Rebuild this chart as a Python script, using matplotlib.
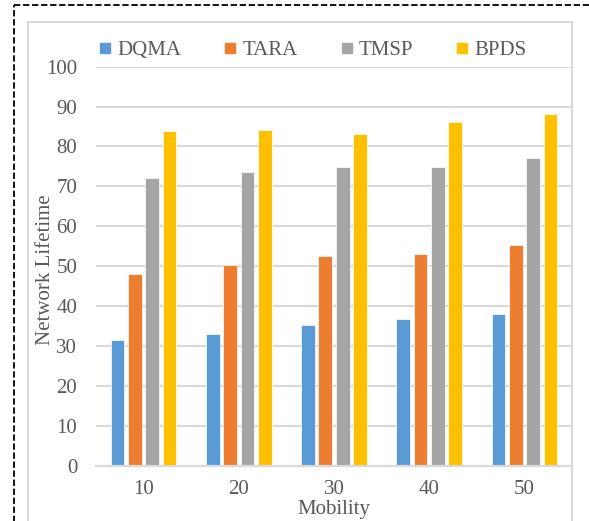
import matplotlib.pyplot as plt
from matplotlib.lines import Line2D
from matplotlib.patches import Rectangle
import numpy as np

# data
mobility = ['10', '20', '30', '40', '50']
dqma = [31.5, 33.0, 35.3, 36.8, 38.1]
tara = [48.0, 50.3, 52.6, 53.1, 55.3]
tmsp = [72.2, 73.7, 74.8, 74.9, 77.2]
bpds = [84.0, 84.1, 83.2, 86.2, 88.2]
series_names = ['DQMA', 'TARA', 'TMSP', 'BPDS']
colors = ['#5B9BD5', '#ED7D31', '#A5A5A5', '#FFC000']

txt_col = '#595959'
grid_col = '#D9D9D9'
plt.rcParams['font.family'] = ['Liberation Serif', 'DejaVu Serif']
fs = 15

W, H = 589, 521
fig = plt.figure(figsize=(W / 100, H / 100), dpi=100)
ax = fig.add_axes([96 / W, 1 - 465.7 / H, (572 - 96) / W, (465.7 - 66.7) / H])

x = np.arange(len(mobility))
pitch, width = 0.182, 0.144
for i, (vals, name, c) in enumerate(zip([dqma, tara, tmsp, bpds], series_names, colors)):
    ax.bar(x + (i - 1.5) * pitch, vals, width, color=c, edgecolor='white',
           linewidth=0.5, label=name, zorder=3)

ax.set_xlim(-0.5, 4.5)
ax.set_ylim(0, 100)
ax.set_yticks(range(0, 101, 10))
ax.set_xticks(x)
ax.set_xticklabels(mobility)
ax.tick_params(axis='both', length=0, colors=txt_col, labelsize=fs)
ax.tick_params(axis='y', pad=13.5)
ax.tick_params(axis='x', pad=10)
ax.yaxis.grid(True, color=grid_col, linewidth=1.5, zorder=0)
ax.set_axisbelow(True)
for s in ['left', 'right', 'top']:
    ax.spines[s].set_visible(False)
ax.spines['bottom'].set_color(grid_col)
ax.spines['bottom'].set_linewidth(1.6)
ax.spines['bottom'].set_zorder(4)

fig.text(334 / W, 1 - 514 / H, 'Mobility', ha='center', va='baseline',
         color=txt_col, fontsize=fs)
fig.text(46 / W, 1 - 270 / H, 'Network Lifetime', ha='center', va='center',
         rotation=90, color=txt_col, fontsize=fs)

handles = [Line2D([], [], linestyle='none', marker='s', markersize=7.3,
                  markerfacecolor=c, markeredgecolor=c) for c in colors]
leg = fig.legend(handles, series_names, ncol=4, loc='center left',
                 bbox_to_anchor=(99.5 / W, 1 - 50.7 / H), frameon=False,
                 handlelength=0.55, handletextpad=0.3, columnspacing=2.08,
                 borderpad=0, borderaxespad=0, fontsize=fs)
for t in leg.get_texts():
    t.set_color(txt_col)

# light chart border and the dashed frame around it
fig.patches.append(Rectangle((28 / W, -0.1), (572 - 28) / W, 1.1 - 22 / H,
                             transform=fig.transFigure, fill=False,
                             edgecolor=grid_col, linewidth=1.5))
fig.lines.append(Line2D([14 / W, 14 / W], [-0.05, 1 - 5 / H], transform=fig.transFigure,
                        color='black', linewidth=1.3, linestyle=(0, (3.5, 1.5))))
fig.lines.append(Line2D([14 / W, 1.02], [1 - 5 / H, 1 - 5 / H], transform=fig.transFigure,
                        color='black', linewidth=1.3, linestyle=(0, (3.5, 1.5))))

fig.savefig('out.png', dpi=100)
